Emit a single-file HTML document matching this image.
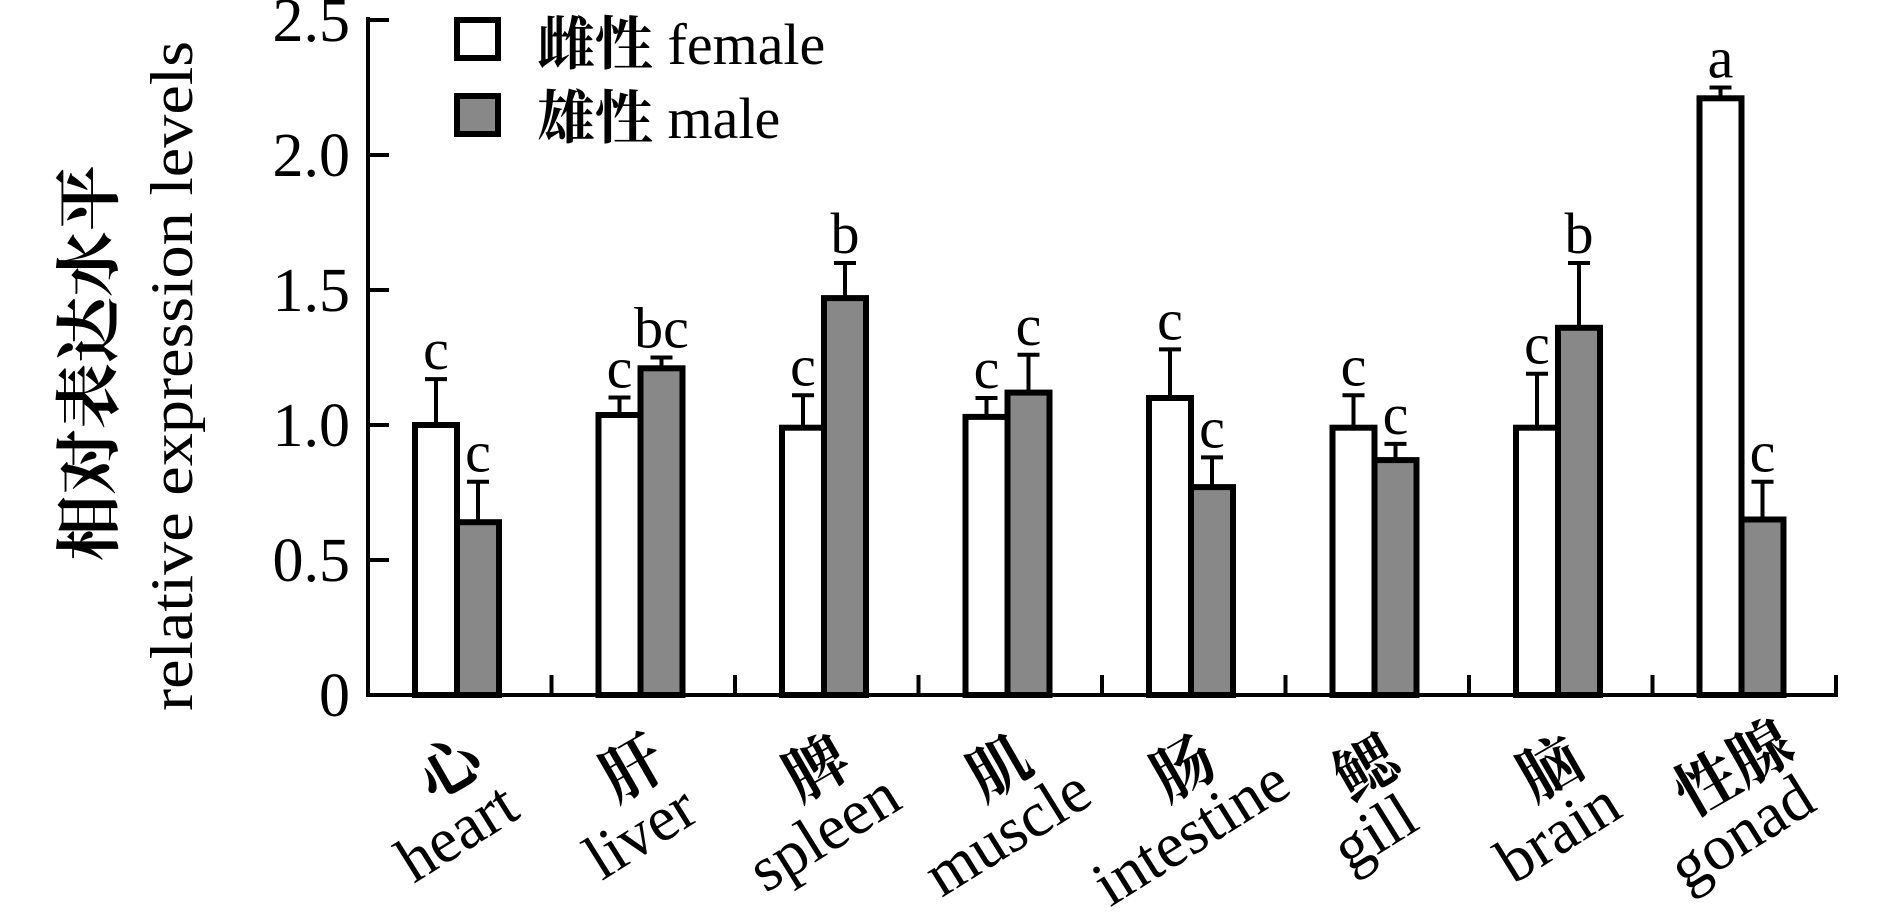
<!DOCTYPE html>
<html><head><meta charset="utf-8"><style>
html,body{margin:0;padding:0;background:#fff;}
svg{display:block;}
text{font-family:"Liberation Serif","Noto Serif CJK SC","Noto Sans CJK SC",serif;fill:#000;}
.zh{font-family:"Noto Serif CJK SC","Noto Sans CJK SC",serif;font-weight:bold;}
</style></head><body>
<svg id="chart" width="1890" height="919" viewBox="0 0 1890 919" xmlns="http://www.w3.org/2000/svg">
<g id="legend">
  <rect x="457" y="20" width="41" height="38" fill="#fff" stroke="#000" stroke-width="6"/>
  <text x="537" y="64" font-size="58"><tspan class="zh">雌性</tspan> female</text>
  <rect x="457" y="96" width="41" height="38" fill="#888" stroke="#000" stroke-width="6"/>
  <text x="537" y="138" font-size="58"><tspan class="zh">雄性</tspan> male</text>
</g>
<g>
  <text class="zh" transform="translate(112,363) rotate(-90)" text-anchor="middle" font-size="66">相对表达水平</text>
  <text transform="translate(192,376) rotate(-90)" text-anchor="middle" font-size="60" textLength="670" lengthAdjust="spacingAndGlyphs">relative expression levels</text>
</g>
<g id="plot"></g>
</svg>
<script>
const categoriesZh = ["心","肝","脾","肌","肠","鳃","脑","性腺"];
const categoriesEn = ["heart","liver","spleen","muscle","intestine","gill","brain","gonad"];
const femaleValues = [1.00,1.037,0.99,1.03,1.10,0.99,0.99,2.21];
const femaleErrors = [0.17,0.065,0.12,0.07,0.18,0.12,0.20,0.04];
const maleValues = [0.64,1.21,1.47,1.12,0.77,0.87,1.36,0.65];
const maleErrors = [0.15,0.04,0.13,0.14,0.11,0.06,0.24,0.14];
const femaleLetters = ["c","c","c","c","c","c","c","a"];
const maleLetters = ["c","bc","b","c","c","c","b","c"];
const yTicks = [0,0.5,1.0,1.5,2.0,2.5];
const yTickLabels = ["0","0.5","1.0","1.5","2.0","2.5"];

const NS="http://www.w3.org/2000/svg";
const plot=document.getElementById('plot');
const x0=368, groupW=183.5, yBase=695, yTop=20, yMax=2.5;
function y(v){return yBase-(v/yMax)*(yBase-yTop);}
function gx(i){return x0+i*groupW;}
function mk(tag,attrs,parent){const e=document.createElementNS(NS,tag);for(const k in attrs)e.setAttribute(k,attrs[k]);(parent||plot).appendChild(e);return e;}

const ya=mk('line',{x1:x0,y1:yTop-3,x2:x0,y2:yBase+2,stroke:'#000','stroke-width':4});


yTicks.forEach((t,i)=>{
  const tk=mk('line',{x1:x0,y1:y(t),x2:x0+21,y2:y(t),stroke:'#000','stroke-width':4});
  
  
  const tl=mk('text',{x:x0-18,y:y(t)+21,'text-anchor':'end','font-size':62});
  tl.textContent=yTickLabels[i];
  
  
});

function bar(i,v,err,fill,letter,off,name){
  const cx=gx(i)+off;
  const r=mk('rect',{x:cx-21,y:y(v),width:42,height:yBase-y(v),fill:fill,stroke:'#000','stroke-width':6});
  
  
  const e=mk('path',{d:`M${cx},${y(v)} V${y(v+err)} M${cx-11},${y(v+err)} H${cx+11}`,stroke:'#000','stroke-width':4,fill:'none'});
  
  
  const t=mk('text',{x:cx,y:y(v+err)-10,'text-anchor':'middle','font-size':58});
  t.textContent=letter;
  
  
}
categoriesEn.forEach((c,i)=>{
  bar(i,femaleValues[i],femaleErrors[i],'#fff',femaleLetters[i],68,'bar-female-'+c);
  bar(i,maleValues[i],maleErrors[i],'#888',maleLetters[i],110,'bar-male-'+c);
  const zh=mk('text',{class:'zh',transform:`translate(${gx(i)+92},${787}) rotate(-30)`,'text-anchor':'middle','font-size':62});
  zh.textContent=categoriesZh[i];
  
  
  const en=mk('text',{transform:`translate(${gx(i)+100},${850}) rotate(-32)`,'text-anchor':'middle','font-size':64});
  en.textContent=c;
  
  
});
for(let i=1;i<=8;i++){
  const tk=mk('line',{x1:gx(i),y1:yBase,x2:gx(i),y2:yBase-20,stroke:'#000','stroke-width':4});
  
  
}
const xa=mk('line',{x1:x0-2,y1:yBase,x2:gx(8)+2,y2:yBase,stroke:'#000','stroke-width':4});


</script>
</body></html>
